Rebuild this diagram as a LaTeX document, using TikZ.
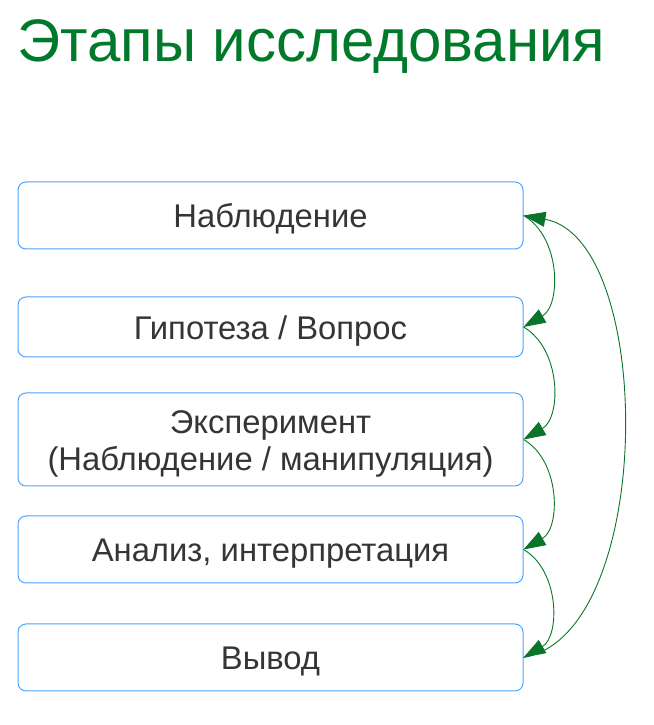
\documentclass[tikz,border=0pt]{standalone}
\usepackage{fontspec}
\setmainfont{Liberation Sans}
\usetikzlibrary{arrows.meta}
\definecolor{boxblue}{HTML}{4DA3FF}
\definecolor{titlegreen}{HTML}{007A2A}
\definecolor{arrowgreen}{HTML}{087529}
\definecolor{txtgray}{HTML}{353535}
\newcommand{\stagetext}[1]{\raisebox{-5pt}[\height][\depth]{\begin{tabular}{@{}c@{}}#1\end{tabular}}}
\begin{document}
\begin{tikzpicture}[x=1pt,y=1pt,
  stagebox/.style={draw=boxblue, line width=1pt, rounded corners=8pt, minimum width=505pt,
    text=txtgray, font=\fontsize{32.8}{37}\selectfont, inner sep=0pt},
  flow/.style={draw=arrowgreen, line width=0.9pt, -{Triangle[length=22pt,width=15pt]}, arrowgreen},
]
\useasboundingbox (0,0) rectangle (653,725);
\node[anchor=base west, inner sep=0pt, text=titlegreen, font=\fontsize{60}{72}\selectfont] (title) at (17,663) {Этапы исследования};
\node[stagebox, minimum height=67pt] (b1) at (270.5,509.5) {\stagetext{Наблюдение}};
\node[stagebox, minimum height=60pt] (b2) at (270.5,398) {\stagetext{Гипотеза / Вопрос}};
\node[stagebox, minimum height=93pt] (b3) at (270.5,285.5) {\stagetext{Эксперимент\\(Наблюдение / манипуляция)}};
\node[stagebox, minimum height=67pt] (b4) at (270.5,175.5) {\stagetext{Анализ, интерпретация}};
\node[stagebox, minimum height=67pt] (b5) at (270.5,67.5) {\stagetext{Вывод}};
\draw[flow] (b1.east) to[out=-30,in=30,looseness=1.0] (b2.east);
\draw[flow] (b2.east) to[out=-30,in=30,looseness=1.0] (b3.east);
\draw[flow] (b3.east) to[out=-30,in=30,looseness=1.0] (b4.east);
\draw[flow] (b4.east) to[out=-30,in=30,looseness=1.0] (b5.east);
\draw[flow] (b5.east) to[out=10,in=-10,looseness=0.78] (b1.east);
\end{tikzpicture}
\end{document}
